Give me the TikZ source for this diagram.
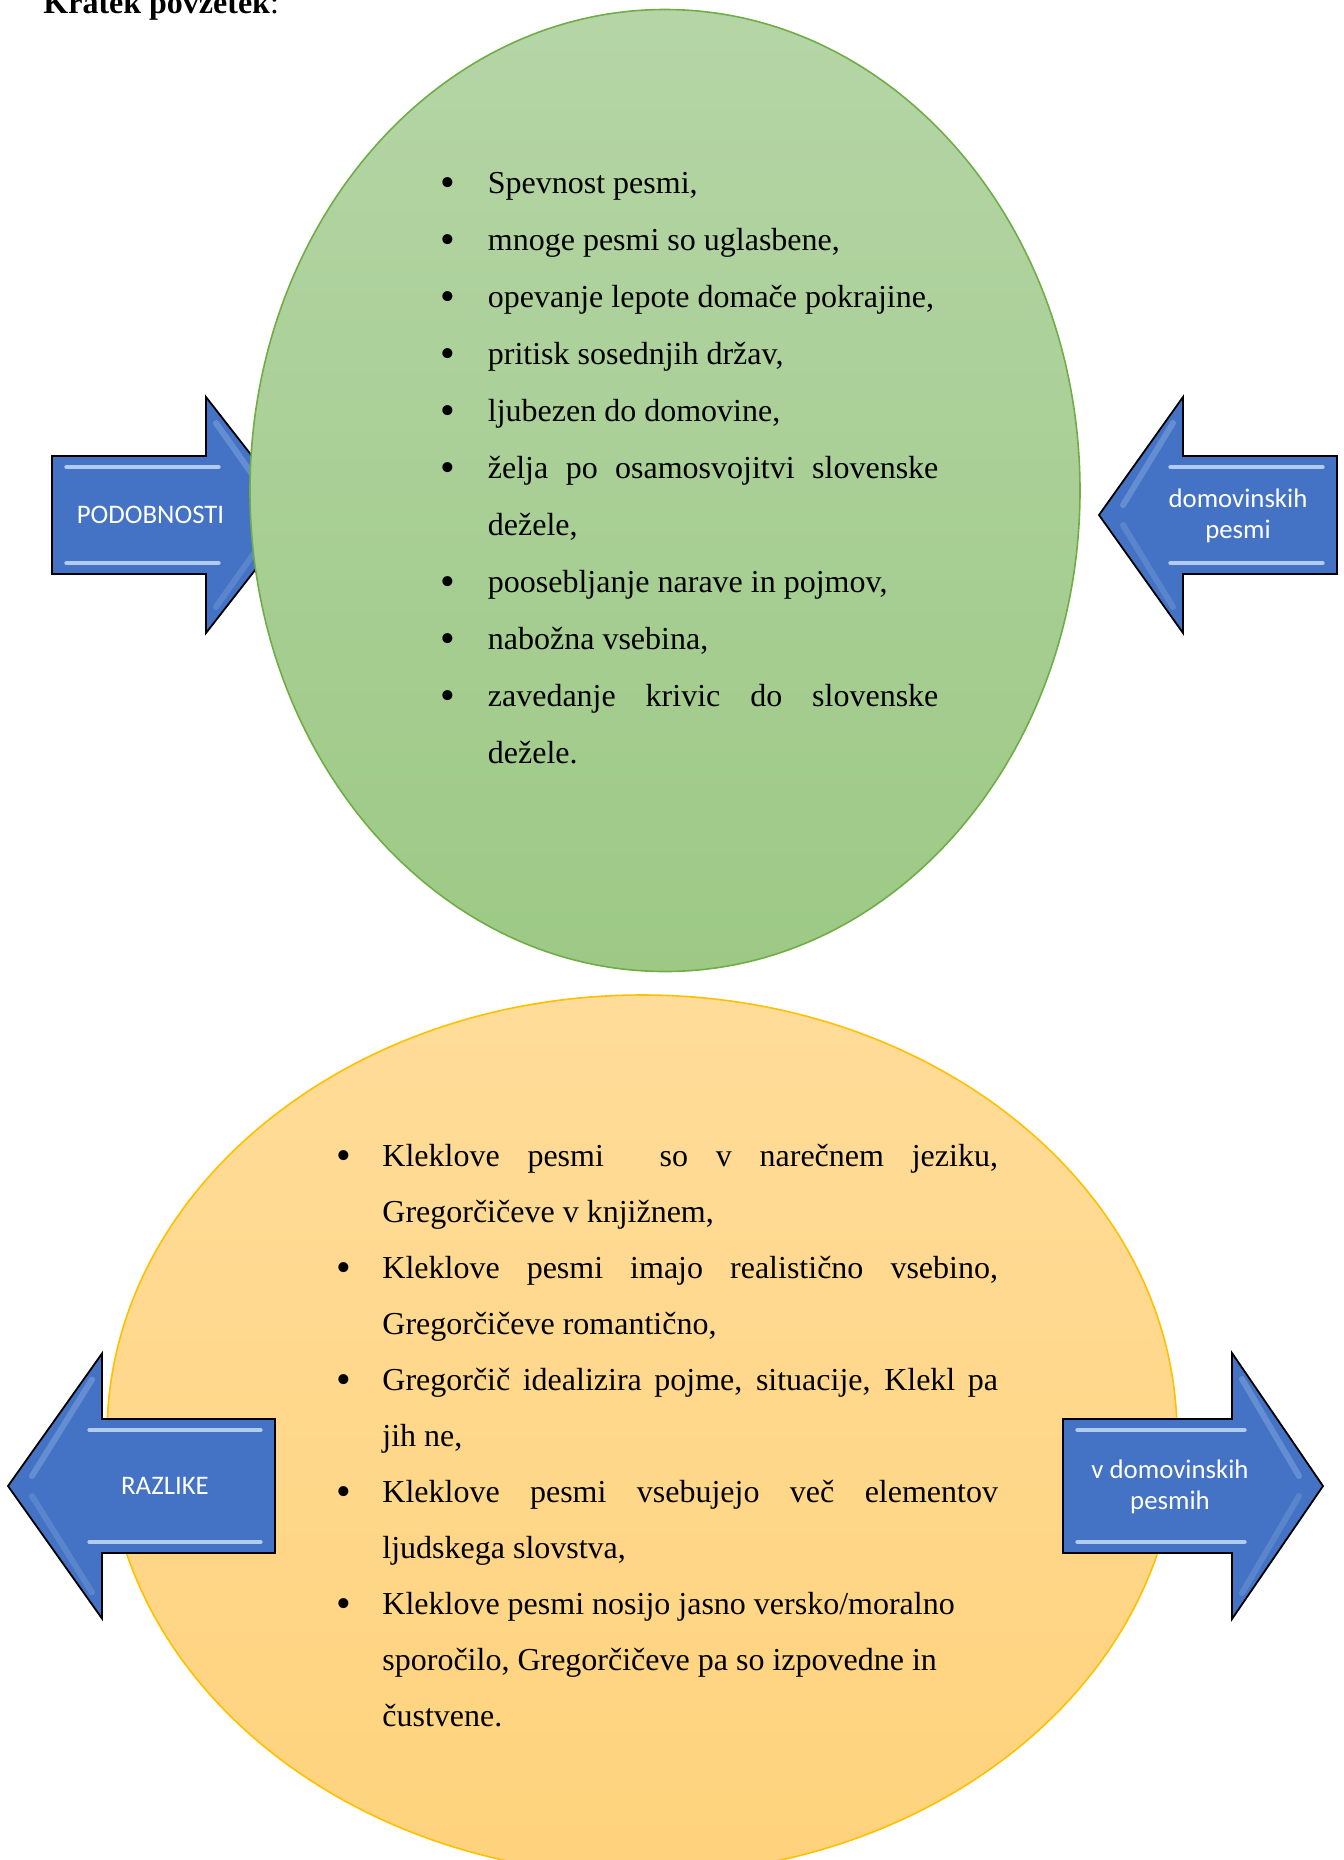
\documentclass[tikz,border=0pt]{standalone}
\usepackage{fontspec}
\setmainfont{Liberation Serif}
\newfontfamily\calibrifont{Carlito}
\definecolor{officeblue}{RGB}{68, 114, 196}
\definecolor{bevelblue}{RGB}{178, 204, 240}
\definecolor{leafgreentop}{RGB}{181, 213, 166}
\definecolor{leafgreenbot}{RGB}{157, 201, 133}
\definecolor{leafgreenline}{RGB}{112, 173, 71}
\definecolor{sandtop}{RGB}{255, 220, 153}
\definecolor{sandbot}{RGB}{255, 211, 125}
\definecolor{sandline}{RGB}{255, 192, 0}
\usetikzlibrary{shapes.geometric, positioning}

\newlength{\bulletgap}
\newcommand{\bitem}{\par\noindent\hangindent=\bulletgap\hangafter=1%
  \makebox[\bulletgap][l]{\raisebox{-1.6pt}{\fontsize{21pt}{21pt}\selectfont\textbullet}}\strut}

% #1 tip x, #2 mid y, #3 head base x, #4 tail x, #5 half body, #6 half head, #7 direction
\newcommand{\bevelarrow}[7]{%
  \filldraw[arrowbody] ({#4},{#2-#5}) -- ({#3},{#2-#5}) -- ({#3},{#2-#6}) -- ({#1},{#2})
    -- ({#3},{#2+#6}) -- ({#3},{#2+#5}) -- ({#4},{#2+#5}) -- cycle;
  \draw[bevel] ({#4+14*(#7)},{#2-#5+11}) -- ({#3+13*(#7)},{#2-#5+11});
  \draw[bevel] ({#4+14*(#7)},{#2+#5-11}) -- ({#3+13*(#7)},{#2+#5-11});
  \draw[bevel, opacity=0.3, line width=3pt] ({#3+10*(#7)},{#2-#6+26}) -- ({#1-24*(#7)},{#2-10});
  \draw[bevel, opacity=0.2, line width=3pt] ({#3+10*(#7)},{#2+#6-26}) -- ({#1-24*(#7)},{#2+10});
}

\tikzset{
  arrowbody/.style={fill=officeblue, draw=black, line width=0.9pt, line join=miter},
  bevel/.style={draw=bevelblue, line width=1.6pt, line cap=round},
  arrowlabel/.style={text=white, font={\calibrifont\fontsize{13.4pt}{15.5pt}\selectfont},
                     align=center, inner sep=0pt},
  listtext/.style={inner sep=0pt, anchor=north west, align=justify}
}

\begin{document}
\begin{tikzpicture}[x=0.5pt, y=-0.5pt]
    \useasboundingbox (0,0) rectangle (1344,1860);
    \clip (0,0) rectangle (1344,1860);

    % Heading
    \node[anchor=base west, inner sep=0pt, font=\fontsize{16pt}{19pt}\selectfont]
          (title) at (43, 13) {\textbf{Kratek povzetek}:};

    % Upper arrows (behind the green oval)
    \bevelarrow{298}{515}{206}{52}{59}{118}{1}
    \bevelarrow{1099}{515}{1183}{1337}{59}{118}{-1}

    % Green oval
    \node[ellipse, draw=leafgreenline, line width=0.8pt, top color=leafgreentop,
          bottom color=leafgreenbot, minimum width=415pt, minimum height=481pt,
          inner sep=0pt] (greenoval) at (665, 490.5) {};

    \node[listtext, text width=248.75pt, font=\fontsize{16pt}{28.5pt}\selectfont]
          (toplist) at (440.5, 136) {\setlength{\bulletgap}{23.5pt}\tolerance=10000
      \bitem Spevnost pesmi,
      \bitem mnoge pesmi so uglasbene,
      \bitem opevanje lepote domače pokrajine,
      \bitem pritisk sosednjih držav,
      \bitem ljubezen do domovine,
      \bitem želja po osamosvojitvi slovenske\linebreak dežele,
      \bitem poosebljanje narave in pojmov,
      \bitem nabožna vsebina,
      \bitem zavedanje krivic do slovenske\linebreak dežele.\par};

    % Yellow oval
    \node[ellipse, draw=sandline, line width=0.8pt, top color=sandtop,
          bottom color=sandbot, minimum width=535pt, minimum height=440pt,
          inner sep=0pt] (yellowoval) at (642, 1435) {};

    % Lower arrows (in front of the yellow oval)
    \bevelarrow{8}{1486}{102}{275}{67}{132.5}{-1}
    \bevelarrow{1323}{1486}{1232}{1063}{67}{133}{1}

    % Arrow labels
    \node[arrowlabel] (lblpodobnosti) at (150.5, 515) {PODOBNOSTI};
    \node[arrowlabel] (lbldomovinskih) at (1238, 516) {domovinskih\\pesmi};
    \node[arrowlabel] (lblrazlike) at (165, 1486) {RAZLIKE};
    \node[arrowlabel] (lblvdomovinskih) at (1170, 1487) {v domovinskih\\pesmih};

    \node[listtext, text width=330.8pt, font=\fontsize{16pt}{28pt}\selectfont]
          (bottomlist) at (336, 1110) {\setlength{\bulletgap}{23pt}\tolerance=10000
      \bitem Kleklove pesmi \ so v narečnem jeziku,\linebreak Gregorčičeve v knjižnem,
      \bitem Kleklove pesmi imajo realistično vsebino,\linebreak Gregorčičeve romantično,
      \bitem Gregorčič idealizira pojme, situacije, Klekl pa\linebreak jih ne,
      \bitem Kleklove pesmi vsebujejo več elementov\linebreak ljudskega slovstva,
      \bitem Kleklove pesmi nosijo jasno versko/moralno\newline sporočilo, Gregorčičeve pa so izpovedne in\newline čustvene.\par};
\end{tikzpicture}
\end{document}
